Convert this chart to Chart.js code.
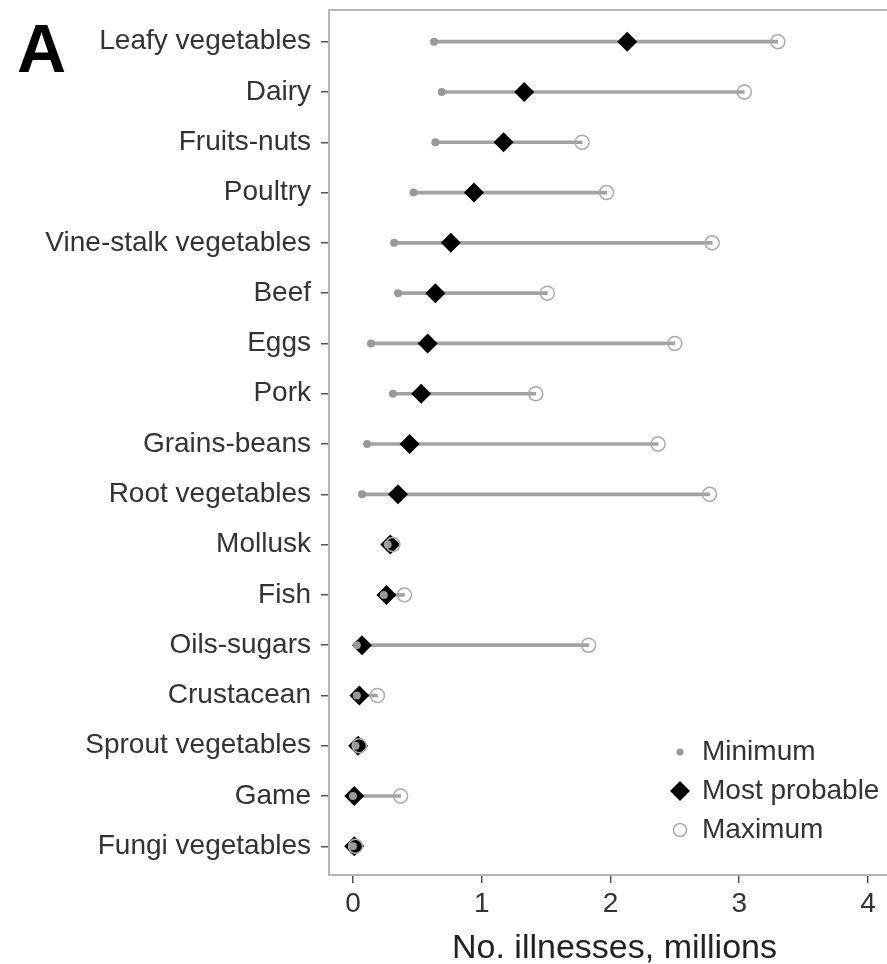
<!DOCTYPE html>
<html>
<head>
<meta charset="utf-8">
<script src="https://cdn.jsdelivr.net/npm/chart.js@4.4.0/dist/chart.umd.min.js"></script>
<style>
  html, body { margin: 0; padding: 0; background: #fff; overflow: hidden; }
</style>
</head>
<body>
<!-- the panel runs a little past the right edge of the window, like the source figure -->
<canvas id="illnessChart" width="900" height="964"></canvas>
<script>
// food categories, top to bottom
const categories = [
    'Leafy vegetables', 'Dairy', 'Fruits-nuts', 'Poultry', 'Vine-stalk vegetables',
    'Beef', 'Eggs', 'Pork', 'Grains-beans', 'Root vegetables', 'Mollusk', 'Fish',
    'Oils-sugars', 'Crustacean', 'Sprout vegetables', 'Game', 'Fungi vegetables'
];

// illnesses, millions
const minimum      = [0.63, 0.69, 0.64, 0.47, 0.32, 0.35, 0.14, 0.31, 0.11, 0.07, 0.27, 0.24, 0.03, 0.03, 0.02, 0.00, 0.00];
const mostProbable = [2.13, 1.33, 1.17, 0.94, 0.76, 0.64, 0.58, 0.53, 0.44, 0.35, 0.29, 0.26, 0.07, 0.05, 0.04, 0.01, 0.01];
const maximum      = [3.30, 3.04, 1.78, 1.97, 2.79, 1.51, 2.50, 1.42, 2.37, 2.77, 0.31, 0.40, 1.83, 0.19, 0.05, 0.37, 0.02];

const xTicks = [0, 1, 2, 3, 4];
const seriesNames = ['Minimum', 'Most probable', 'Maximum'];

const FONT = '"Liberation Sans", Arial, Helvetica, sans-serif';
const LINE_GREY = '#a2a2a2';

const toPoints = values => values.map((v, i) => ({ x: v, y: i }));

// top rule, panel letter and the legend inside the plot
const decorations = {
    id: 'decorations',
    afterDraw(chart) {
        const { ctx, chartArea: a } = chart;
        ctx.save();

        ctx.strokeStyle = '#b5b5b5';
        ctx.lineWidth = 2;
        ctx.beginPath();
        ctx.moveTo(a.left - 1, a.top);
        ctx.lineTo(a.right, a.top);
        ctx.stroke();

        ctx.fillStyle = '#000';
        ctx.font = 'bold 68px ' + FONT;
        ctx.textBaseline = 'alphabetic';
        ctx.fillText('A', 17, 72);

        const lx = 680, ly = 752, step = 39;
        ctx.font = '28px ' + FONT;
        ctx.textBaseline = 'middle';
        seriesNames.forEach((name, k) => {
            const y = ly + k * step;
            ctx.beginPath();
            if (k === 0) {
                ctx.fillStyle = '#999';
                ctx.arc(lx, y, 3.5, 0, Math.PI * 2);
                ctx.fill();
            } else if (k === 1) {
                ctx.fillStyle = '#000';
                ctx.moveTo(lx - 10, y);
                ctx.lineTo(lx, y - 10);
                ctx.lineTo(lx + 10, y);
                ctx.lineTo(lx, y + 10);
                ctx.closePath();
                ctx.fill();
            } else {
                ctx.strokeStyle = '#aaa';
                ctx.lineWidth = 1.5;
                ctx.arc(lx, y, 6.5, 0, Math.PI * 2);
                ctx.stroke();
            }
            ctx.fillStyle = '#333';
            ctx.fillText(name, lx + 22, y);
        });

        ctx.restore();
    }
};

const config = {
    type: 'scatter',
    data: {
        datasets: [
            {
                label: seriesNames[2],
                data: toPoints(maximum),
                pointStyle: 'circle',
                pointRadius: 7,
                backgroundColor: 'rgba(255,255,255,0)',
                borderColor: '#aaa',
                borderWidth: 1.5,
                order: 1
            },
            {
                label: seriesNames[0],
                data: toPoints(minimum),
                pointStyle: 'circle',
                pointRadius: 4,
                backgroundColor: '#999',
                borderWidth: 0,
                order: 2
            },
            {
                label: seriesNames[1],
                data: toPoints(mostProbable),
                pointStyle: 'rectRot',
                pointRadius: 10,
                backgroundColor: '#000',
                borderWidth: 0,
                order: 3
            },
            {
                // range line from minimum to maximum
                type: 'bar',
                label: 'range',
                indexAxis: 'y',
                data: categories.map((c, i) => ({ x: [minimum[i], maximum[i]], y: i })),
                backgroundColor: LINE_GREY,
                barThickness: 3,
                order: 4
            }
        ]
    },
    options: {
        responsive: false,
        animation: false,
        devicePixelRatio: 1,
        events: [],
        layout: { autoPadding: false, padding: { top: 10, left: 0, right: 0, bottom: 0 } },
        plugins: {
            legend: { display: false },
            tooltip: { enabled: false }
        },
        scales: {
            x: {
                type: 'linear',
                position: 'bottom',
                min: -0.186,
                max: 4.249,
                offset: false,
                afterBuildTicks: s => { s.ticks = xTicks.map(v => ({ value: v })); },
                afterFit: s => { s.height = 89; s.paddingLeft = 0; s.paddingRight = 0; },
                ticks: { color: '#333', font: { family: FONT, size: 28 }, padding: 4 },
                grid: { offset: false, drawOnChartArea: false, drawTicks: true, tickLength: 8, color: '#555', lineWidth: 1.5 },
                border: { display: true, color: '#b5b5b5', width: 2 },
                title: {
                    display: true,
                    text: 'No. illnesses, millions',
                    color: '#222',
                    font: { family: FONT, size: 34, lineHeight: 0.9 },
                    padding: { top: 0, bottom: 0 }
                }
            },
            y: {
                type: 'linear',
                reverse: true,
                min: -0.63,
                max: 16.57,
                offset: false,
                afterBuildTicks: s => { s.ticks = categories.map((c, i) => ({ value: i })); },
                afterFit: s => { s.width = 329; s.paddingTop = 0; s.paddingBottom = 0; },
                ticks: {
                    color: '#333',
                    font: { family: FONT, size: 28 },
                    padding: 10,
                    callback: v => categories[v]
                },
                grid: { offset: false, drawOnChartArea: false, drawTicks: true, tickLength: 8, color: '#555', lineWidth: 1.5 },
                border: { display: true, color: '#b5b5b5', width: 2 }
            }
        }
    },
    plugins: [decorations]
};

new Chart(document.getElementById('illnessChart'), config);
</script>
</body>
</html>
